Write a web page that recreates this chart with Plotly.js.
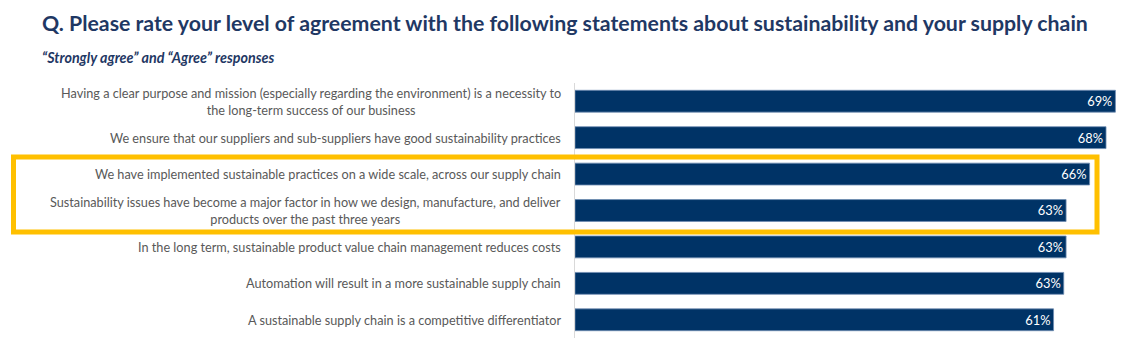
<!DOCTYPE html>
<html><head><meta charset="utf-8">
<script src="https://cdn.plot.ly/plotly-3.0.1.min.js"></script>
<style>html,body{margin:0;padding:0;background:#fff}#chart{width:1135px;height:364px}</style>
</head><body><div id="chart"></div>
<script>
const statements = [
  "Having a clear purpose and mission (especially regarding the environment) is a necessity to<br>the long-term success of our business",
  "We ensure that our suppliers and sub-suppliers have good sustainability practices",
  "We have implemented sustainable practices on a wide scale, across our supply chain",
  "Sustainability issues have become a major factor in how we design, manufacture, and deliver<br>products over the past three years",
  "In the long term, sustainable product value chain management reduces costs",
  "Automation will result in a more sustainable supply chain",
  "A sustainable supply chain is a competitive differentiator"
];
const agreeValues = [69.0, 67.8, 65.7, 62.7, 62.7, 62.4, 61.1];
const valueLabels = ["69%", "68%", "66%", "63%", "63%", "63%", "61%"];

const cats = statements.map((s, i) => "c" + i);
const labelFont = {family: "Lato, 'Open Sans', sans-serif", size: 12.7, color: "#595959"};

const trace = {
  type: "bar", orientation: "h",
  x: agreeValues, y: cats,
  width: 0.6,
  marker: {color: "#003366", line: {color: "#6f8db3", width: 0.8}},
  text: valueLabels, textposition: "inside", insidetextanchor: "end",
  textfont: {family: "Lato, 'Open Sans', sans-serif", size: 13, color: "#ffffff"},
  cliponaxis: false, hoverinfo: "skip"
};

const annotations = statements.map((s, i) => ({
  xref: "x", yref: "y", x: 0, y: cats[i], xanchor: "right", yanchor: "middle",
  xshift: -12, text: s, showarrow: false, align: "center", font: labelFont
}));
annotations.push({
  xref: "paper", yref: "paper", x: -535/560, y: 1.06, xanchor: "left", yanchor: "bottom",
  text: "<b><i>\u201cStrongly agree\u201d and \u201cAgree\u201d responses</i></b>", showarrow: false,
  font: {family: "Lato, 'Open Sans', sans-serif", size: 14.3, color: "#1f3864"}
});

const layout = {
  width: 1135, height: 364,
  margin: {l: 575, r: 0, t: 83, b: 26},
  paper_bgcolor: "#ffffff", plot_bgcolor: "#ffffff",
  title: {text: "<b>Q. Please rate your level of agreement with the following statements about sustainability and your supply chain</b>",
    x: 42/1135, xanchor: "left", xref: "container", yref: "container", y: 1 - 31/364, yanchor: "bottom",
    font: {family: "Lato, 'Open Sans', sans-serif", size: 21.3, color: "#1f3864"}},
  xaxis: {range: [0, 71.5], visible: false, fixedrange: true},
  yaxis: {type: "category", categoryorder: "array", categoryarray: cats, autorange: false, range: [6.5, -0.5],
    showticklabels: false, showgrid: false, zeroline: false, showline: true, linecolor: "#d9d9d9", linewidth: 1, ticks: ""},
  showlegend: false, bargap: 0.4,
  annotations: annotations,
  shapes: [{type: "rect", xref: "paper", yref: "paper",
    x0: -561.5/560, x1: 522/560, y0: (338 - 232)/255, y1: (338 - 157)/255,
    line: {color: "#ffc000", width: 5}, fillcolor: "rgba(0,0,0,0)", layer: "above"}]
};

Plotly.newPlot("chart", [trace], layout, {displayModeBar: false, staticPlot: true});
</script></body></html>
